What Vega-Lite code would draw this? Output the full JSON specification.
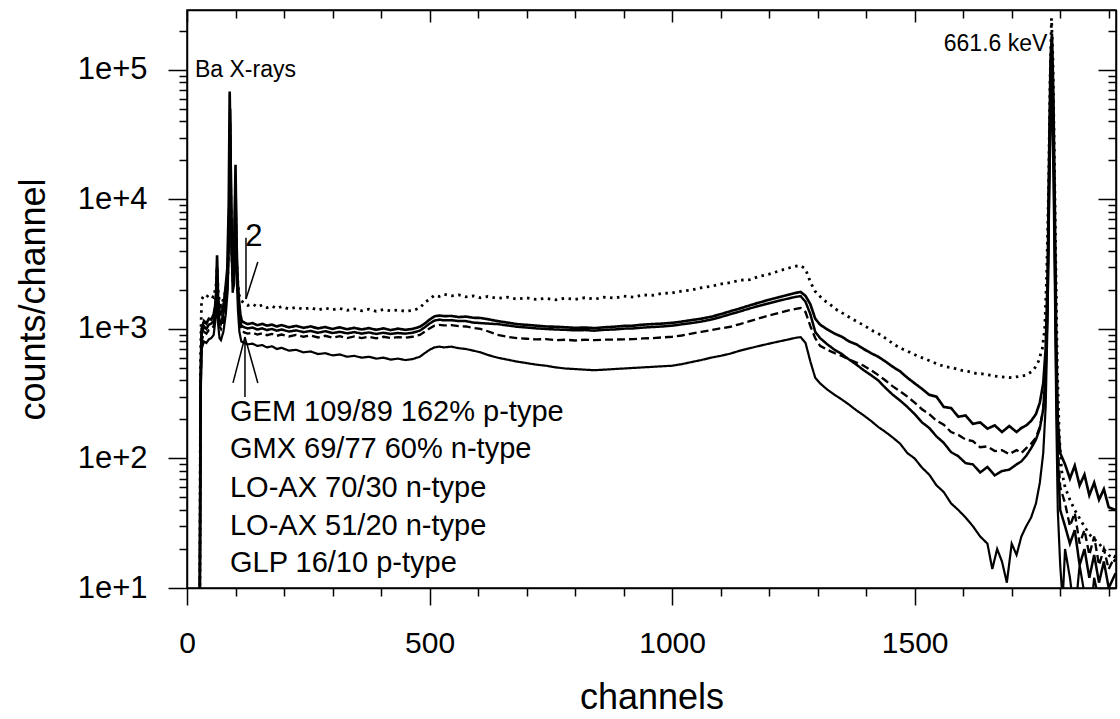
{
  "$schema": "https://vega.github.io/schema/vega-lite/v6.json",
  "width": 929,
  "height": 578,
  "autosize": {"type": "none"},
  "padding": {"left": 187, "top": 10, "right": 4, "bottom": 131},
  "background": "white",
  "config": {
    "view": {"stroke": "black", "strokeWidth": 1.5},
    "font": "Liberation Sans",
    "axis": {
      "grid": false,
      "domainColor": "black",
      "domainWidth": 1.5,
      "tickColor": "black",
      "tickWidth": 1.5,
      "labelColor": "black",
      "titleColor": "black",
      "labelFont": "Liberation Sans",
      "titleFont": "Liberation Sans",
      "titleFontWeight": "normal",
      "labelOverlap": false,
      "labelFlush": false
    }
  },
  "resolve": {"axis": {"x": "independent", "y": "independent"}},
  "layer": [
    {
      "data": {"values": [
        {"det":"GEM","ch":26,"cts":3},{"det":"GEM","ch":28,"cts":600},{"det":"GEM","ch":30,"cts":1700},{"det":"GEM","ch":35,"cts":1800},{"det":"GEM","ch":40,"cts":1750},{"det":"GEM","ch":45,"cts":1850},{"det":"GEM","ch":50,"cts":1800},{"det":"GEM","ch":55,"cts":1750},{"det":"GEM","ch":60,"cts":2200},{"det":"GEM","ch":62,"cts":3000},{"det":"GEM","ch":64,"cts":2000},{"det":"GEM","ch":67,"cts":1600},{"det":"GEM","ch":70,"cts":1500},{"det":"GEM","ch":75,"cts":1700},{"det":"GEM","ch":80,"cts":2000},{"det":"GEM","ch":84,"cts":2500},{"det":"GEM","ch":87,"cts":8000},{"det":"GEM","ch":89,"cts":25000},{"det":"GEM","ch":91,"cts":6000},{"det":"GEM","ch":94,"cts":2600},{"det":"GEM","ch":97,"cts":2800},{"det":"GEM","ch":100,"cts":9000},{"det":"GEM","ch":102,"cts":3500},{"det":"GEM","ch":105,"cts":2200},{"det":"GEM","ch":108,"cts":1800},{"det":"GEM","ch":112,"cts":1650},{"det":"GEM","ch":118,"cts":1580},{"det":"GEM","ch":125,"cts":1520},{"det":"GEM","ch":135,"cts":1560},{"det":"GEM","ch":145,"cts":1480},{"det":"GEM","ch":155,"cts":1530},{"det":"GEM","ch":165,"cts":1460},{"det":"GEM","ch":175,"cts":1500},{"det":"GEM","ch":185,"cts":1440},{"det":"GEM","ch":195,"cts":1490},{"det":"GEM","ch":210,"cts":1430},{"det":"GEM","ch":225,"cts":1470},{"det":"GEM","ch":240,"cts":1420},{"det":"GEM","ch":255,"cts":1460},{"det":"GEM","ch":270,"cts":1400},{"det":"GEM","ch":285,"cts":1450},{"det":"GEM","ch":300,"cts":1410},{"det":"GEM","ch":315,"cts":1440},{"det":"GEM","ch":330,"cts":1390},{"det":"GEM","ch":345,"cts":1430},{"det":"GEM","ch":360,"cts":1380},{"det":"GEM","ch":375,"cts":1420},{"det":"GEM","ch":390,"cts":1370},{"det":"GEM","ch":405,"cts":1410},{"det":"GEM","ch":420,"cts":1380},{"det":"GEM","ch":435,"cts":1400},{"det":"GEM","ch":450,"cts":1370},{"det":"GEM","ch":465,"cts":1390},{"det":"GEM","ch":480,"cts":1450},{"det":"GEM","ch":490,"cts":1600},{"det":"GEM","ch":500,"cts":1700},{"det":"GEM","ch":510,"cts":1820},{"det":"GEM","ch":520,"cts":1780},{"det":"GEM","ch":530,"cts":1850},{"det":"GEM","ch":545,"cts":1800},{"det":"GEM","ch":560,"cts":1830},{"det":"GEM","ch":575,"cts":1770},{"det":"GEM","ch":590,"cts":1800},{"det":"GEM","ch":605,"cts":1740},{"det":"GEM","ch":620,"cts":1780},{"det":"GEM","ch":640,"cts":1720},{"det":"GEM","ch":660,"cts":1760},{"det":"GEM","ch":680,"cts":1700},{"det":"GEM","ch":700,"cts":1740},{"det":"GEM","ch":720,"cts":1690},{"det":"GEM","ch":740,"cts":1720},{"det":"GEM","ch":760,"cts":1680},{"det":"GEM","ch":780,"cts":1730},{"det":"GEM","ch":800,"cts":1690},{"det":"GEM","ch":820,"cts":1740},{"det":"GEM","ch":840,"cts":1700},{"det":"GEM","ch":860,"cts":1760},{"det":"GEM","ch":880,"cts":1730},{"det":"GEM","ch":900,"cts":1790},{"det":"GEM","ch":920,"cts":1760},{"det":"GEM","ch":940,"cts":1830},{"det":"GEM","ch":960,"cts":1820},{"det":"GEM","ch":980,"cts":1880},{"det":"GEM","ch":1000,"cts":1900},{"det":"GEM","ch":1020,"cts":1960},{"det":"GEM","ch":1040,"cts":2000},{"det":"GEM","ch":1060,"cts":2080},{"det":"GEM","ch":1080,"cts":2130},{"det":"GEM","ch":1100,"cts":2220},{"det":"GEM","ch":1120,"cts":2280},{"det":"GEM","ch":1140,"cts":2380},{"det":"GEM","ch":1160,"cts":2400},{"det":"GEM","ch":1180,"cts":2550},{"det":"GEM","ch":1200,"cts":2650},{"det":"GEM","ch":1220,"cts":2800},{"det":"GEM","ch":1240,"cts":2950},{"det":"GEM","ch":1255,"cts":3050},{"det":"GEM","ch":1265,"cts":3080},{"det":"GEM","ch":1275,"cts":2900},{"det":"GEM","ch":1285,"cts":2300},{"det":"GEM","ch":1295,"cts":1950},{"det":"GEM","ch":1310,"cts":1700},{"det":"GEM","ch":1325,"cts":1550},{"det":"GEM","ch":1340,"cts":1400},{"det":"GEM","ch":1355,"cts":1300},{"det":"GEM","ch":1370,"cts":1200},{"det":"GEM","ch":1385,"cts":1120},{"det":"GEM","ch":1400,"cts":1040},{"det":"GEM","ch":1415,"cts":960},{"det":"GEM","ch":1430,"cts":900},{"det":"GEM","ch":1445,"cts":820},{"det":"GEM","ch":1460,"cts":750},{"det":"GEM","ch":1475,"cts":700},{"det":"GEM","ch":1490,"cts":660},{"det":"GEM","ch":1505,"cts":620},{"det":"GEM","ch":1520,"cts":590},{"det":"GEM","ch":1535,"cts":560},{"det":"GEM","ch":1550,"cts":530},{"det":"GEM","ch":1565,"cts":510},{"det":"GEM","ch":1580,"cts":500},{"det":"GEM","ch":1595,"cts":480},{"det":"GEM","ch":1610,"cts":470},{"det":"GEM","ch":1625,"cts":455},{"det":"GEM","ch":1640,"cts":450},{"det":"GEM","ch":1655,"cts":440},{"det":"GEM","ch":1670,"cts":430},{"det":"GEM","ch":1685,"cts":425},{"det":"GEM","ch":1700,"cts":420},{"det":"GEM","ch":1715,"cts":430},{"det":"GEM","ch":1730,"cts":440},{"det":"GEM","ch":1745,"cts":480},{"det":"GEM","ch":1755,"cts":560},{"det":"GEM","ch":1763,"cts":700},{"det":"GEM","ch":1768,"cts":1000},{"det":"GEM","ch":1772,"cts":2500},{"det":"GEM","ch":1776,"cts":12000},{"det":"GEM","ch":1779,"cts":80000},{"det":"GEM","ch":1782,"cts":250000},{"det":"GEM","ch":1785,"cts":120000},{"det":"GEM","ch":1788,"cts":20000},{"det":"GEM","ch":1791,"cts":3000},{"det":"GEM","ch":1794,"cts":500},{"det":"GEM","ch":1798,"cts":150},{"det":"GEM","ch":1803,"cts":80},{"det":"GEM","ch":1810,"cts":60},{"det":"GEM","ch":1820,"cts":48},{"det":"GEM","ch":1830,"cts":40},{"det":"GEM","ch":1845,"cts":32},{"det":"GEM","ch":1860,"cts":26},{"det":"GEM","ch":1880,"cts":22},{"det":"GEM","ch":1900,"cts":18},{"det":"GEM","ch":1914,"cts":16},

        {"det":"GMX","ch":26,"cts":3},{"det":"GMX","ch":28,"cts":400},{"det":"GMX","ch":30,"cts":1000},{"det":"GMX","ch":35,"cts":1150},{"det":"GMX","ch":40,"cts":1100},{"det":"GMX","ch":45,"cts":1200},{"det":"GMX","ch":50,"cts":1180},{"det":"GMX","ch":55,"cts":1300},{"det":"GMX","ch":58,"cts":1500},{"det":"GMX","ch":60,"cts":1900},{"det":"GMX","ch":62,"cts":3700},{"det":"GMX","ch":64,"cts":1800},{"det":"GMX","ch":67,"cts":1350},{"det":"GMX","ch":70,"cts":1300},{"det":"GMX","ch":73,"cts":1400},{"det":"GMX","ch":76,"cts":1600},{"det":"GMX","ch":80,"cts":2200},{"det":"GMX","ch":83,"cts":2900},{"det":"GMX","ch":86,"cts":9000},{"det":"GMX","ch":88,"cts":68000},{"det":"GMX","ch":90,"cts":20000},{"det":"GMX","ch":92,"cts":4000},{"det":"GMX","ch":94,"cts":2800},{"det":"GMX","ch":96,"cts":3200},{"det":"GMX","ch":98,"cts":6000},{"det":"GMX","ch":100,"cts":18500},{"det":"GMX","ch":102,"cts":5000},{"det":"GMX","ch":104,"cts":2500},{"det":"GMX","ch":107,"cts":1700},{"det":"GMX","ch":110,"cts":1300},{"det":"GMX","ch":113,"cts":1150},{"det":"GMX","ch":118,"cts":1120},{"det":"GMX","ch":125,"cts":1090},{"det":"GMX","ch":135,"cts":1110},{"det":"GMX","ch":145,"cts":1070},{"det":"GMX","ch":155,"cts":1095},{"det":"GMX","ch":165,"cts":1060},{"det":"GMX","ch":175,"cts":1080},{"det":"GMX","ch":185,"cts":1045},{"det":"GMX","ch":195,"cts":1070},{"det":"GMX","ch":210,"cts":1030},{"det":"GMX","ch":225,"cts":1055},{"det":"GMX","ch":240,"cts":1020},{"det":"GMX","ch":255,"cts":1045},{"det":"GMX","ch":270,"cts":1010},{"det":"GMX","ch":285,"cts":1035},{"det":"GMX","ch":300,"cts":1000},{"det":"GMX","ch":315,"cts":1030},{"det":"GMX","ch":330,"cts":995},{"det":"GMX","ch":345,"cts":1020},{"det":"GMX","ch":360,"cts":990},{"det":"GMX","ch":375,"cts":1015},{"det":"GMX","ch":390,"cts":985},{"det":"GMX","ch":405,"cts":1010},{"det":"GMX","ch":420,"cts":980},{"det":"GMX","ch":435,"cts":1005},{"det":"GMX","ch":450,"cts":985},{"det":"GMX","ch":465,"cts":1000},{"det":"GMX","ch":480,"cts":1040},{"det":"GMX","ch":490,"cts":1100},{"det":"GMX","ch":500,"cts":1180},{"det":"GMX","ch":510,"cts":1250},{"det":"GMX","ch":520,"cts":1270},{"det":"GMX","ch":530,"cts":1255},{"det":"GMX","ch":545,"cts":1260},{"det":"GMX","ch":560,"cts":1235},{"det":"GMX","ch":575,"cts":1245},{"det":"GMX","ch":590,"cts":1220},{"det":"GMX","ch":605,"cts":1215},{"det":"GMX","ch":620,"cts":1190},{"det":"GMX","ch":640,"cts":1150},{"det":"GMX","ch":660,"cts":1120},{"det":"GMX","ch":680,"cts":1090},{"det":"GMX","ch":700,"cts":1075},{"det":"GMX","ch":720,"cts":1060},{"det":"GMX","ch":740,"cts":1045},{"det":"GMX","ch":760,"cts":1040},{"det":"GMX","ch":780,"cts":1030},{"det":"GMX","ch":800,"cts":1020},{"det":"GMX","ch":820,"cts":1025},{"det":"GMX","ch":840,"cts":1015},{"det":"GMX","ch":860,"cts":1030},{"det":"GMX","ch":880,"cts":1040},{"det":"GMX","ch":900,"cts":1055},{"det":"GMX","ch":920,"cts":1060},{"det":"GMX","ch":940,"cts":1080},{"det":"GMX","ch":960,"cts":1090},{"det":"GMX","ch":980,"cts":1100},{"det":"GMX","ch":1000,"cts":1115},{"det":"GMX","ch":1020,"cts":1140},{"det":"GMX","ch":1040,"cts":1170},{"det":"GMX","ch":1060,"cts":1200},{"det":"GMX","ch":1080,"cts":1240},{"det":"GMX","ch":1100,"cts":1300},{"det":"GMX","ch":1120,"cts":1370},{"det":"GMX","ch":1140,"cts":1440},{"det":"GMX","ch":1160,"cts":1520},{"det":"GMX","ch":1180,"cts":1600},{"det":"GMX","ch":1200,"cts":1680},{"det":"GMX","ch":1220,"cts":1760},{"det":"GMX","ch":1240,"cts":1840},{"det":"GMX","ch":1255,"cts":1900},{"det":"GMX","ch":1265,"cts":1930},{"det":"GMX","ch":1275,"cts":1800},{"det":"GMX","ch":1285,"cts":1550},{"det":"GMX","ch":1295,"cts":1200},{"det":"GMX","ch":1305,"cts":1080},{"det":"GMX","ch":1320,"cts":990},{"det":"GMX","ch":1335,"cts":920},{"det":"GMX","ch":1350,"cts":870},{"det":"GMX","ch":1365,"cts":800},{"det":"GMX","ch":1380,"cts":760},{"det":"GMX","ch":1395,"cts":700},{"det":"GMX","ch":1410,"cts":650},{"det":"GMX","ch":1425,"cts":610},{"det":"GMX","ch":1440,"cts":560},{"det":"GMX","ch":1455,"cts":510},{"det":"GMX","ch":1470,"cts":470},{"det":"GMX","ch":1485,"cts":420},{"det":"GMX","ch":1500,"cts":380},{"det":"GMX","ch":1515,"cts":345},{"det":"GMX","ch":1530,"cts":310},{"det":"GMX","ch":1545,"cts":300},{"det":"GMX","ch":1560,"cts":250},{"det":"GMX","ch":1575,"cts":245},{"det":"GMX","ch":1590,"cts":210},{"det":"GMX","ch":1605,"cts":215},{"det":"GMX","ch":1620,"cts":185},{"det":"GMX","ch":1635,"cts":190},{"det":"GMX","ch":1650,"cts":170},{"det":"GMX","ch":1665,"cts":180},{"det":"GMX","ch":1680,"cts":160},{"det":"GMX","ch":1695,"cts":178},{"det":"GMX","ch":1710,"cts":160},{"det":"GMX","ch":1720,"cts":172},{"det":"GMX","ch":1730,"cts":180},{"det":"GMX","ch":1740,"cts":195},{"det":"GMX","ch":1750,"cts":220},{"det":"GMX","ch":1758,"cts":270},{"det":"GMX","ch":1765,"cts":380},{"det":"GMX","ch":1770,"cts":700},{"det":"GMX","ch":1774,"cts":2500},{"det":"GMX","ch":1777,"cts":20000},{"det":"GMX","ch":1780,"cts":120000},{"det":"GMX","ch":1783,"cts":190000},{"det":"GMX","ch":1786,"cts":60000},{"det":"GMX","ch":1789,"cts":8000},{"det":"GMX","ch":1792,"cts":800},{"det":"GMX","ch":1795,"cts":200},{"det":"GMX","ch":1800,"cts":110},{"det":"GMX","ch":1810,"cts":90},{"det":"GMX","ch":1820,"cts":70},{"det":"GMX","ch":1830,"cts":88},{"det":"GMX","ch":1840,"cts":62},{"det":"GMX","ch":1850,"cts":75},{"det":"GMX","ch":1860,"cts":52},{"det":"GMX","ch":1870,"cts":65},{"det":"GMX","ch":1880,"cts":48},{"det":"GMX","ch":1890,"cts":58},{"det":"GMX","ch":1900,"cts":42},{"det":"GMX","ch":1914,"cts":40},

        {"det":"LOAX70","ch":26,"cts":3},{"det":"LOAX70","ch":28,"cts":350},{"det":"LOAX70","ch":30,"cts":900},{"det":"LOAX70","ch":35,"cts":1050},{"det":"LOAX70","ch":40,"cts":1000},{"det":"LOAX70","ch":45,"cts":1080},{"det":"LOAX70","ch":50,"cts":1100},{"det":"LOAX70","ch":55,"cts":1150},{"det":"LOAX70","ch":60,"cts":1700},{"det":"LOAX70","ch":62,"cts":3000},{"det":"LOAX70","ch":64,"cts":1500},{"det":"LOAX70","ch":67,"cts":1150},{"det":"LOAX70","ch":70,"cts":1100},{"det":"LOAX70","ch":75,"cts":1300},{"det":"LOAX70","ch":80,"cts":1800},{"det":"LOAX70","ch":84,"cts":2600},{"det":"LOAX70","ch":87,"cts":8000},{"det":"LOAX70","ch":89,"cts":50000},{"det":"LOAX70","ch":91,"cts":10000},{"det":"LOAX70","ch":94,"cts":2500},{"det":"LOAX70","ch":97,"cts":2900},{"det":"LOAX70","ch":100,"cts":15000},{"det":"LOAX70","ch":102,"cts":4000},{"det":"LOAX70","ch":105,"cts":2000},{"det":"LOAX70","ch":108,"cts":1300},{"det":"LOAX70","ch":112,"cts":1060},{"det":"LOAX70","ch":118,"cts":1030},{"det":"LOAX70","ch":125,"cts":1010},{"det":"LOAX70","ch":135,"cts":1025},{"det":"LOAX70","ch":145,"cts":990},{"det":"LOAX70","ch":155,"cts":1010},{"det":"LOAX70","ch":165,"cts":980},{"det":"LOAX70","ch":175,"cts":1000},{"det":"LOAX70","ch":185,"cts":970},{"det":"LOAX70","ch":195,"cts":990},{"det":"LOAX70","ch":210,"cts":955},{"det":"LOAX70","ch":225,"cts":975},{"det":"LOAX70","ch":240,"cts":945},{"det":"LOAX70","ch":255,"cts":965},{"det":"LOAX70","ch":270,"cts":935},{"det":"LOAX70","ch":285,"cts":960},{"det":"LOAX70","ch":300,"cts":930},{"det":"LOAX70","ch":315,"cts":950},{"det":"LOAX70","ch":330,"cts":925},{"det":"LOAX70","ch":345,"cts":945},{"det":"LOAX70","ch":360,"cts":920},{"det":"LOAX70","ch":375,"cts":940},{"det":"LOAX70","ch":390,"cts":915},{"det":"LOAX70","ch":405,"cts":935},{"det":"LOAX70","ch":420,"cts":915},{"det":"LOAX70","ch":435,"cts":930},{"det":"LOAX70","ch":450,"cts":920},{"det":"LOAX70","ch":465,"cts":935},{"det":"LOAX70","ch":480,"cts":970},{"det":"LOAX70","ch":490,"cts":1030},{"det":"LOAX70","ch":500,"cts":1100},{"det":"LOAX70","ch":510,"cts":1160},{"det":"LOAX70","ch":520,"cts":1180},{"det":"LOAX70","ch":530,"cts":1165},{"det":"LOAX70","ch":545,"cts":1170},{"det":"LOAX70","ch":560,"cts":1150},{"det":"LOAX70","ch":575,"cts":1150},{"det":"LOAX70","ch":590,"cts":1120},{"det":"LOAX70","ch":605,"cts":1110},{"det":"LOAX70","ch":620,"cts":1100},{"det":"LOAX70","ch":640,"cts":1090},{"det":"LOAX70","ch":660,"cts":1065},{"det":"LOAX70","ch":680,"cts":1040},{"det":"LOAX70","ch":700,"cts":1025},{"det":"LOAX70","ch":720,"cts":1010},{"det":"LOAX70","ch":740,"cts":1000},{"det":"LOAX70","ch":760,"cts":990},{"det":"LOAX70","ch":780,"cts":985},{"det":"LOAX70","ch":800,"cts":975},{"det":"LOAX70","ch":820,"cts":980},{"det":"LOAX70","ch":840,"cts":970},{"det":"LOAX70","ch":860,"cts":985},{"det":"LOAX70","ch":880,"cts":990},{"det":"LOAX70","ch":900,"cts":1005},{"det":"LOAX70","ch":920,"cts":1010},{"det":"LOAX70","ch":940,"cts":1025},{"det":"LOAX70","ch":960,"cts":1035},{"det":"LOAX70","ch":980,"cts":1045},{"det":"LOAX70","ch":1000,"cts":1060},{"det":"LOAX70","ch":1020,"cts":1085},{"det":"LOAX70","ch":1040,"cts":1110},{"det":"LOAX70","ch":1060,"cts":1140},{"det":"LOAX70","ch":1080,"cts":1180},{"det":"LOAX70","ch":1100,"cts":1235},{"det":"LOAX70","ch":1120,"cts":1300},{"det":"LOAX70","ch":1140,"cts":1365},{"det":"LOAX70","ch":1160,"cts":1440},{"det":"LOAX70","ch":1180,"cts":1510},{"det":"LOAX70","ch":1200,"cts":1580},{"det":"LOAX70","ch":1220,"cts":1650},{"det":"LOAX70","ch":1240,"cts":1720},{"det":"LOAX70","ch":1255,"cts":1770},{"det":"LOAX70","ch":1265,"cts":1790},{"det":"LOAX70","ch":1275,"cts":1620},{"det":"LOAX70","ch":1285,"cts":1300},{"det":"LOAX70","ch":1295,"cts":950},{"det":"LOAX70","ch":1305,"cts":850},{"det":"LOAX70","ch":1320,"cts":760},{"det":"LOAX70","ch":1335,"cts":690},{"det":"LOAX70","ch":1350,"cts":640},{"det":"LOAX70","ch":1365,"cts":580},{"det":"LOAX70","ch":1380,"cts":530},{"det":"LOAX70","ch":1395,"cts":480},{"det":"LOAX70","ch":1410,"cts":440},{"det":"LOAX70","ch":1425,"cts":400},{"det":"LOAX70","ch":1440,"cts":350},{"det":"LOAX70","ch":1455,"cts":310},{"det":"LOAX70","ch":1470,"cts":280},{"det":"LOAX70","ch":1485,"cts":250},{"det":"LOAX70","ch":1500,"cts":220},{"det":"LOAX70","ch":1515,"cts":190},{"det":"LOAX70","ch":1530,"cts":172},{"det":"LOAX70","ch":1545,"cts":148},{"det":"LOAX70","ch":1560,"cts":132},{"det":"LOAX70","ch":1575,"cts":112},{"det":"LOAX70","ch":1590,"cts":104},{"det":"LOAX70","ch":1605,"cts":92},{"det":"LOAX70","ch":1620,"cts":90},{"det":"LOAX70","ch":1635,"cts":78},{"det":"LOAX70","ch":1650,"cts":86},{"det":"LOAX70","ch":1665,"cts":74},{"det":"LOAX70","ch":1680,"cts":80},{"det":"LOAX70","ch":1695,"cts":82},{"det":"LOAX70","ch":1710,"cts":90},{"det":"LOAX70","ch":1720,"cts":95},{"det":"LOAX70","ch":1730,"cts":105},{"det":"LOAX70","ch":1740,"cts":120},{"det":"LOAX70","ch":1750,"cts":140},{"det":"LOAX70","ch":1758,"cts":170},{"det":"LOAX70","ch":1765,"cts":240},{"det":"LOAX70","ch":1770,"cts":450},{"det":"LOAX70","ch":1774,"cts":1500},{"det":"LOAX70","ch":1777,"cts":12000},{"det":"LOAX70","ch":1780,"cts":70000},{"det":"LOAX70","ch":1783,"cts":110000},{"det":"LOAX70","ch":1786,"cts":30000},{"det":"LOAX70","ch":1789,"cts":4000},{"det":"LOAX70","ch":1792,"cts":400},{"det":"LOAX70","ch":1795,"cts":100},{"det":"LOAX70","ch":1800,"cts":40},{"det":"LOAX70","ch":1810,"cts":30},{"det":"LOAX70","ch":1820,"cts":22},{"det":"LOAX70","ch":1830,"cts":28},{"det":"LOAX70","ch":1840,"cts":15},{"det":"LOAX70","ch":1850,"cts":20},{"det":"LOAX70","ch":1860,"cts":12},{"det":"LOAX70","ch":1870,"cts":18},{"det":"LOAX70","ch":1880,"cts":11},{"det":"LOAX70","ch":1890,"cts":16},{"det":"LOAX70","ch":1900,"cts":10},{"det":"LOAX70","ch":1914,"cts":13},

        {"det":"LOAX51","ch":26,"cts":3},{"det":"LOAX51","ch":28,"cts":300},{"det":"LOAX51","ch":30,"cts":800},{"det":"LOAX51","ch":35,"cts":950},{"det":"LOAX51","ch":40,"cts":920},{"det":"LOAX51","ch":45,"cts":980},{"det":"LOAX51","ch":50,"cts":1000},{"det":"LOAX51","ch":55,"cts":1050},{"det":"LOAX51","ch":60,"cts":1500},{"det":"LOAX51","ch":62,"cts":2500},{"det":"LOAX51","ch":64,"cts":1400},{"det":"LOAX51","ch":67,"cts":1050},{"det":"LOAX51","ch":70,"cts":1000},{"det":"LOAX51","ch":75,"cts":1150},{"det":"LOAX51","ch":80,"cts":1600},{"det":"LOAX51","ch":84,"cts":2400},{"det":"LOAX51","ch":87,"cts":7000},{"det":"LOAX51","ch":89,"cts":40000},{"det":"LOAX51","ch":91,"cts":8000},{"det":"LOAX51","ch":94,"cts":2300},{"det":"LOAX51","ch":97,"cts":2600},{"det":"LOAX51","ch":100,"cts":12000},{"det":"LOAX51","ch":102,"cts":3500},{"det":"LOAX51","ch":105,"cts":1800},{"det":"LOAX51","ch":108,"cts":1200},{"det":"LOAX51","ch":112,"cts":980},{"det":"LOAX51","ch":118,"cts":940},{"det":"LOAX51","ch":125,"cts":920},{"det":"LOAX51","ch":135,"cts":935},{"det":"LOAX51","ch":145,"cts":905},{"det":"LOAX51","ch":155,"cts":925},{"det":"LOAX51","ch":165,"cts":895},{"det":"LOAX51","ch":175,"cts":915},{"det":"LOAX51","ch":185,"cts":885},{"det":"LOAX51","ch":195,"cts":905},{"det":"LOAX51","ch":210,"cts":875},{"det":"LOAX51","ch":225,"cts":900},{"det":"LOAX51","ch":240,"cts":870},{"det":"LOAX51","ch":255,"cts":890},{"det":"LOAX51","ch":270,"cts":860},{"det":"LOAX51","ch":285,"cts":885},{"det":"LOAX51","ch":300,"cts":855},{"det":"LOAX51","ch":315,"cts":880},{"det":"LOAX51","ch":330,"cts":850},{"det":"LOAX51","ch":345,"cts":875},{"det":"LOAX51","ch":360,"cts":850},{"det":"LOAX51","ch":375,"cts":870},{"det":"LOAX51","ch":390,"cts":845},{"det":"LOAX51","ch":405,"cts":870},{"det":"LOAX51","ch":420,"cts":850},{"det":"LOAX51","ch":435,"cts":865},{"det":"LOAX51","ch":450,"cts":855},{"det":"LOAX51","ch":465,"cts":870},{"det":"LOAX51","ch":480,"cts":900},{"det":"LOAX51","ch":490,"cts":950},{"det":"LOAX51","ch":500,"cts":1010},{"det":"LOAX51","ch":510,"cts":1060},{"det":"LOAX51","ch":520,"cts":1075},{"det":"LOAX51","ch":530,"cts":1065},{"det":"LOAX51","ch":545,"cts":1070},{"det":"LOAX51","ch":560,"cts":1050},{"det":"LOAX51","ch":575,"cts":1045},{"det":"LOAX51","ch":590,"cts":1020},{"det":"LOAX51","ch":605,"cts":1000},{"det":"LOAX51","ch":620,"cts":960},{"det":"LOAX51","ch":640,"cts":900},{"det":"LOAX51","ch":660,"cts":870},{"det":"LOAX51","ch":680,"cts":850},{"det":"LOAX51","ch":700,"cts":840},{"det":"LOAX51","ch":720,"cts":830},{"det":"LOAX51","ch":740,"cts":835},{"det":"LOAX51","ch":760,"cts":820},{"det":"LOAX51","ch":780,"cts":825},{"det":"LOAX51","ch":800,"cts":815},{"det":"LOAX51","ch":820,"cts":825},{"det":"LOAX51","ch":840,"cts":820},{"det":"LOAX51","ch":860,"cts":826},{"det":"LOAX51","ch":880,"cts":828},{"det":"LOAX51","ch":900,"cts":830},{"det":"LOAX51","ch":920,"cts":835},{"det":"LOAX51","ch":940,"cts":845},{"det":"LOAX51","ch":960,"cts":850},{"det":"LOAX51","ch":980,"cts":860},{"det":"LOAX51","ch":1000,"cts":870},{"det":"LOAX51","ch":1020,"cts":890},{"det":"LOAX51","ch":1040,"cts":920},{"det":"LOAX51","ch":1060,"cts":950},{"det":"LOAX51","ch":1080,"cts":980},{"det":"LOAX51","ch":1100,"cts":1010},{"det":"LOAX51","ch":1120,"cts":1040},{"det":"LOAX51","ch":1140,"cts":1090},{"det":"LOAX51","ch":1160,"cts":1150},{"det":"LOAX51","ch":1180,"cts":1210},{"det":"LOAX51","ch":1200,"cts":1270},{"det":"LOAX51","ch":1220,"cts":1330},{"det":"LOAX51","ch":1240,"cts":1390},{"det":"LOAX51","ch":1255,"cts":1430},{"det":"LOAX51","ch":1265,"cts":1450},{"det":"LOAX51","ch":1275,"cts":1350},{"det":"LOAX51","ch":1285,"cts":1050},{"det":"LOAX51","ch":1295,"cts":850},{"det":"LOAX51","ch":1305,"cts":740},{"det":"LOAX51","ch":1320,"cts":690},{"det":"LOAX51","ch":1335,"cts":650},{"det":"LOAX51","ch":1350,"cts":620},{"det":"LOAX51","ch":1365,"cts":580},{"det":"LOAX51","ch":1380,"cts":550},{"det":"LOAX51","ch":1395,"cts":520},{"det":"LOAX51","ch":1410,"cts":480},{"det":"LOAX51","ch":1425,"cts":440},{"det":"LOAX51","ch":1440,"cts":400},{"det":"LOAX51","ch":1455,"cts":360},{"det":"LOAX51","ch":1470,"cts":330},{"det":"LOAX51","ch":1485,"cts":300},{"det":"LOAX51","ch":1500,"cts":270},{"det":"LOAX51","ch":1515,"cts":240},{"det":"LOAX51","ch":1530,"cts":220},{"det":"LOAX51","ch":1545,"cts":196},{"det":"LOAX51","ch":1560,"cts":182},{"det":"LOAX51","ch":1575,"cts":160},{"det":"LOAX51","ch":1590,"cts":152},{"det":"LOAX51","ch":1605,"cts":140},{"det":"LOAX51","ch":1620,"cts":136},{"det":"LOAX51","ch":1635,"cts":122},{"det":"LOAX51","ch":1650,"cts":124},{"det":"LOAX51","ch":1665,"cts":114},{"det":"LOAX51","ch":1680,"cts":116},{"det":"LOAX51","ch":1695,"cts":108},{"det":"LOAX51","ch":1710,"cts":116},{"det":"LOAX51","ch":1720,"cts":110},{"det":"LOAX51","ch":1730,"cts":120},{"det":"LOAX51","ch":1740,"cts":130},{"det":"LOAX51","ch":1750,"cts":145},{"det":"LOAX51","ch":1758,"cts":175},{"det":"LOAX51","ch":1765,"cts":240},{"det":"LOAX51","ch":1770,"cts":450},{"det":"LOAX51","ch":1774,"cts":1800},{"det":"LOAX51","ch":1777,"cts":15000},{"det":"LOAX51","ch":1780,"cts":90000},{"det":"LOAX51","ch":1783,"cts":140000},{"det":"LOAX51","ch":1786,"cts":40000},{"det":"LOAX51","ch":1789,"cts":5000},{"det":"LOAX51","ch":1792,"cts":500},{"det":"LOAX51","ch":1795,"cts":120},{"det":"LOAX51","ch":1800,"cts":60},{"det":"LOAX51","ch":1810,"cts":45},{"det":"LOAX51","ch":1820,"cts":30},{"det":"LOAX51","ch":1830,"cts":38},{"det":"LOAX51","ch":1840,"cts":22},{"det":"LOAX51","ch":1850,"cts":28},{"det":"LOAX51","ch":1860,"cts":18},{"det":"LOAX51","ch":1870,"cts":25},{"det":"LOAX51","ch":1880,"cts":15},{"det":"LOAX51","ch":1890,"cts":20},{"det":"LOAX51","ch":1900,"cts":14},{"det":"LOAX51","ch":1914,"cts":18},

        {"det":"GLP","ch":26,"cts":3},{"det":"GLP","ch":28,"cts":250},{"det":"GLP","ch":30,"cts":700},{"det":"GLP","ch":35,"cts":800},{"det":"GLP","ch":40,"cts":780},{"det":"GLP","ch":45,"cts":830},{"det":"GLP","ch":50,"cts":850},{"det":"GLP","ch":55,"cts":900},{"det":"GLP","ch":60,"cts":1300},{"det":"GLP","ch":62,"cts":2200},{"det":"GLP","ch":64,"cts":1100},{"det":"GLP","ch":67,"cts":850},{"det":"GLP","ch":70,"cts":820},{"det":"GLP","ch":75,"cts":950},{"det":"GLP","ch":80,"cts":1300},{"det":"GLP","ch":84,"cts":2000},{"det":"GLP","ch":87,"cts":6000},{"det":"GLP","ch":89,"cts":30000},{"det":"GLP","ch":91,"cts":6000},{"det":"GLP","ch":94,"cts":1900},{"det":"GLP","ch":97,"cts":2200},{"det":"GLP","ch":100,"cts":9000},{"det":"GLP","ch":102,"cts":2800},{"det":"GLP","ch":105,"cts":1400},{"det":"GLP","ch":108,"cts":950},{"det":"GLP","ch":112,"cts":800},{"det":"GLP","ch":118,"cts":780},{"det":"GLP","ch":125,"cts":760},{"det":"GLP","ch":135,"cts":770},{"det":"GLP","ch":145,"cts":740},{"det":"GLP","ch":155,"cts":750},{"det":"GLP","ch":165,"cts":720},{"det":"GLP","ch":175,"cts":735},{"det":"GLP","ch":185,"cts":700},{"det":"GLP","ch":195,"cts":715},{"det":"GLP","ch":210,"cts":680},{"det":"GLP","ch":225,"cts":690},{"det":"GLP","ch":240,"cts":660},{"det":"GLP","ch":255,"cts":670},{"det":"GLP","ch":270,"cts":640},{"det":"GLP","ch":285,"cts":650},{"det":"GLP","ch":300,"cts":625},{"det":"GLP","ch":315,"cts":635},{"det":"GLP","ch":330,"cts":610},{"det":"GLP","ch":345,"cts":620},{"det":"GLP","ch":360,"cts":600},{"det":"GLP","ch":375,"cts":610},{"det":"GLP","ch":390,"cts":590},{"det":"GLP","ch":405,"cts":600},{"det":"GLP","ch":420,"cts":580},{"det":"GLP","ch":435,"cts":590},{"det":"GLP","ch":450,"cts":575},{"det":"GLP","ch":465,"cts":585},{"det":"GLP","ch":480,"cts":610},{"det":"GLP","ch":490,"cts":650},{"det":"GLP","ch":500,"cts":690},{"det":"GLP","ch":510,"cts":720},{"det":"GLP","ch":520,"cts":730},{"det":"GLP","ch":530,"cts":720},{"det":"GLP","ch":545,"cts":730},{"det":"GLP","ch":560,"cts":710},{"det":"GLP","ch":575,"cts":700},{"det":"GLP","ch":590,"cts":680},{"det":"GLP","ch":605,"cts":660},{"det":"GLP","ch":620,"cts":630},{"det":"GLP","ch":640,"cts":600},{"det":"GLP","ch":660,"cts":580},{"det":"GLP","ch":680,"cts":560},{"det":"GLP","ch":700,"cts":545},{"det":"GLP","ch":720,"cts":530},{"det":"GLP","ch":740,"cts":520},{"det":"GLP","ch":760,"cts":505},{"det":"GLP","ch":780,"cts":495},{"det":"GLP","ch":800,"cts":490},{"det":"GLP","ch":820,"cts":485},{"det":"GLP","ch":840,"cts":480},{"det":"GLP","ch":860,"cts":485},{"det":"GLP","ch":880,"cts":490},{"det":"GLP","ch":900,"cts":495},{"det":"GLP","ch":920,"cts":500},{"det":"GLP","ch":940,"cts":505},{"det":"GLP","ch":960,"cts":510},{"det":"GLP","ch":980,"cts":515},{"det":"GLP","ch":1000,"cts":520},{"det":"GLP","ch":1020,"cts":535},{"det":"GLP","ch":1040,"cts":555},{"det":"GLP","ch":1060,"cts":575},{"det":"GLP","ch":1080,"cts":600},{"det":"GLP","ch":1100,"cts":620},{"det":"GLP","ch":1120,"cts":645},{"det":"GLP","ch":1140,"cts":680},{"det":"GLP","ch":1160,"cts":710},{"det":"GLP","ch":1180,"cts":740},{"det":"GLP","ch":1200,"cts":770},{"det":"GLP","ch":1220,"cts":800},{"det":"GLP","ch":1240,"cts":830},{"det":"GLP","ch":1255,"cts":855},{"det":"GLP","ch":1265,"cts":865},{"det":"GLP","ch":1275,"cts":780},{"det":"GLP","ch":1285,"cts":560},{"det":"GLP","ch":1295,"cts":420},{"det":"GLP","ch":1305,"cts":380},{"det":"GLP","ch":1320,"cts":340},{"det":"GLP","ch":1335,"cts":310},{"det":"GLP","ch":1350,"cts":285},{"det":"GLP","ch":1365,"cts":260},{"det":"GLP","ch":1380,"cts":235},{"det":"GLP","ch":1395,"cts":215},{"det":"GLP","ch":1410,"cts":195},{"det":"GLP","ch":1425,"cts":175},{"det":"GLP","ch":1440,"cts":160},{"det":"GLP","ch":1455,"cts":145},{"det":"GLP","ch":1470,"cts":130},{"det":"GLP","ch":1485,"cts":110},{"det":"GLP","ch":1500,"cts":100},{"det":"GLP","ch":1515,"cts":85},{"det":"GLP","ch":1530,"cts":75},{"det":"GLP","ch":1545,"cts":62},{"det":"GLP","ch":1560,"cts":55},{"det":"GLP","ch":1575,"cts":45},{"det":"GLP","ch":1590,"cts":40},{"det":"GLP","ch":1605,"cts":35},{"det":"GLP","ch":1620,"cts":30},{"det":"GLP","ch":1635,"cts":25},{"det":"GLP","ch":1650,"cts":22},{"det":"GLP","ch":1660,"cts":14},{"det":"GLP","ch":1670,"cts":20},{"det":"GLP","ch":1680,"cts":16},{"det":"GLP","ch":1690,"cts":11},{"det":"GLP","ch":1700,"cts":22},{"det":"GLP","ch":1710,"cts":18},{"det":"GLP","ch":1720,"cts":25},{"det":"GLP","ch":1730,"cts":30},{"det":"GLP","ch":1740,"cts":35},{"det":"GLP","ch":1750,"cts":45},{"det":"GLP","ch":1758,"cts":65},{"det":"GLP","ch":1765,"cts":110},{"det":"GLP","ch":1770,"cts":250},{"det":"GLP","ch":1774,"cts":1200},{"det":"GLP","ch":1777,"cts":8000},{"det":"GLP","ch":1780,"cts":40000},{"det":"GLP","ch":1783,"cts":60000},{"det":"GLP","ch":1786,"cts":15000},{"det":"GLP","ch":1789,"cts":2000},{"det":"GLP","ch":1792,"cts":200},{"det":"GLP","ch":1795,"cts":40},{"det":"GLP","ch":1800,"cts":15},{"det":"GLP","ch":1805,"cts":8},{"det":"GLP","ch":1810,"cts":20},{"det":"GLP","ch":1820,"cts":12},{"det":"GLP","ch":1830,"cts":6},{"det":"GLP","ch":1840,"cts":15},{"det":"GLP","ch":1850,"cts":9},{"det":"GLP","ch":1860,"cts":5},{"det":"GLP","ch":1870,"cts":12},{"det":"GLP","ch":1880,"cts":8},{"det":"GLP","ch":1890,"cts":5},{"det":"GLP","ch":1900,"cts":10},{"det":"GLP","ch":1914,"cts":7}
      ]},
      "mark": {"type": "line", "clip": true, "color": "black"},
      "encoding": {
        "x": {
          "field": "ch", "type": "quantitative",
          "scale": {"domain": [0, 1915], "nice": false, "zero": false},
          "axis": {
            "orient": "bottom",
            "title": "channels",
            "values": [0,100,200,300,400,500,600,700,800,900,1000,1100,1200,1300,1400,1500,1600,1700,1800,1900],
            "format": "d",
            "labelExpr": "datum.value % 500 == 0 ? datum.label : ''",
            "tickSize": {"condition": {"test": "datum.value % 500 == 0", "value": 17}, "value": 8},
            "labelFontSize": 30,
            "labelPadding": 23,
            "titleFontSize": 36,
            "titlePadding": 22
          }
        },
        "y": {
          "field": "cts", "type": "quantitative",
          "scale": {"type": "log", "domain": [10, 290000], "nice": false},
          "axis": {
            "orient": "left",
            "title": "counts/channel",
            "values": [10,20,30,40,50,60,70,80,90,100,200,300,400,500,600,700,800,900,1000,2000,3000,4000,5000,6000,7000,8000,9000,10000,20000,30000,40000,50000,60000,70000,80000,90000,100000,200000],
            "labelExpr": "abs(log(datum.value)/LN10 - round(log(datum.value)/LN10)) < 0.000001 ? '1e+' + round(log(datum.value)/LN10) : ''",
            "tickSize": {"condition": {"test": "abs(log(datum.value)/LN10 - round(log(datum.value)/LN10)) < 0.000001", "value": 19}, "value": 8},
            "labelFontSize": 31,
            "labelPadding": 21,
            "titleFontSize": 36,
            "titlePadding": 25
          }
        },
        "strokeDash": {
          "field": "det", "type": "nominal",
          "scale": {"domain": ["GEM","GMX","LOAX70","LOAX51","GLP"], "range": [[2.5,4.5],[1,0],[1,0],[8,4],[1,0]]},
          "legend": null
        },
        "strokeWidth": {
          "field": "det", "type": "nominal",
          "scale": {"domain": ["GEM","GMX","LOAX70","LOAX51","GLP"], "range": [2.8,2.2,2.2,2.2,2.2]},
          "legend": null
        }
      }
    },
    {
      "data": {"values": [
        {"c1": 121.6, "n1": 5050, "c2": 121.6, "n2": 1700},
        {"c1": 146, "n1": 3290, "c2": 121.6, "n2": 1700},
        {"c1": 119.5, "n1": 822, "c2": 119.5, "n2": 298},
        {"c1": 94.8, "n1": 383, "c2": 119.5, "n2": 867},
        {"c1": 146, "n1": 383, "c2": 119.5, "n2": 867}
      ]},
      "mark": {"type": "rule", "color": "black", "strokeWidth": 1.5},
      "encoding": {
        "x": {
          "field": "c1", "type": "quantitative",
          "axis": {
            "orient": "top", "title": null, "labels": false,
            "values": [0,100,200,300,400,500,600,700,800,900,1000,1100,1200,1300,1400,1500,1600,1700,1800,1900],
            "tickSize": {"condition": {"test": "datum.value % 500 == 0", "value": -12}, "value": -8}
          }
        },
        "y": {
          "field": "n1", "type": "quantitative",
          "axis": {
            "orient": "right", "title": null, "labels": false,
            "values": [10,20,30,40,50,60,70,80,90,100,200,300,400,500,600,700,800,900,1000,2000,3000,4000,5000,6000,7000,8000,9000,10000,20000,30000,40000,50000,60000,70000,80000,90000,100000,200000],
            "tickSize": {"condition": {"test": "abs(log(datum.value)/LN10 - round(log(datum.value)/LN10)) < 0.000001", "value": -18}, "value": -8}
          }
        },
        "x2": {"field": "c2"},
        "y2": {"field": "n2"}
      }
    },
    {
      "data": {"values": [
        {"label": "GEM 109/89 162% p-type", "ch": 88.6, "cts": 228},
        {"label": "GMX 69/77 60% n-type", "ch": 88.6, "cts": 118},
        {"label": "LO-AX 70/30 n-type", "ch": 88.6, "cts": 59},
        {"label": "LO-AX 51/20 n-type", "ch": 88.6, "cts": 30},
        {"label": "GLP 16/10 p-type", "ch": 88.6, "cts": 15.6}
      ]},
      "mark": {"type": "text", "align": "left", "baseline": "middle", "fontSize": 29, "font": "Liberation Sans", "color": "black"},
      "encoding": {
        "x": {"field": "ch", "type": "quantitative", "axis": null},
        "y": {"field": "cts", "type": "quantitative", "axis": null},
        "text": {"field": "label"}
      }
    },
    {
      "data": {"values": [
        {"label": "2", "ch": 120, "cts": 5130}
      ]},
      "mark": {"type": "text", "align": "left", "baseline": "middle", "fontSize": 31, "font": "Liberation Sans", "color": "black"},
      "encoding": {
        "x": {"field": "ch", "type": "quantitative", "axis": null},
        "y": {"field": "cts", "type": "quantitative", "axis": null},
        "text": {"field": "label"}
      }
    },
    {
      "data": {"values": [
        {"label": "Ba X-rays", "ch": 16.5, "cts": 100000},
        {"label": "661.6 keV", "ch": 1560, "cts": 158000}
      ]},
      "mark": {"type": "text", "align": "left", "baseline": "middle", "fontSize": 23, "font": "Liberation Sans", "color": "black"},
      "encoding": {
        "x": {"field": "ch", "type": "quantitative", "axis": null},
        "y": {"field": "cts", "type": "quantitative", "axis": null},
        "text": {"field": "label"}
      }
    }
  ]
}
